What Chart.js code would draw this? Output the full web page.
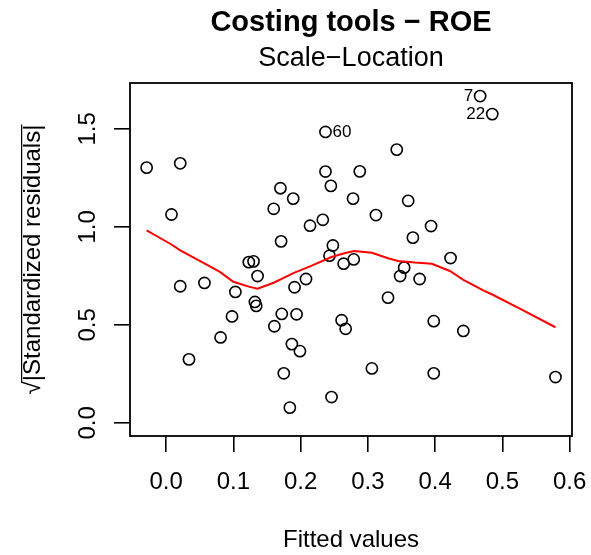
<!DOCTYPE html>
<html>
<head>
<meta charset="utf-8">
<title>Scale-Location</title>
<script src="https://cdn.jsdelivr.net/npm/chart.js@4.4.1/dist/chart.umd.min.js"></script>
<style>
  html, body { margin: 0; padding: 0; background: #fff; }
  #wrap { width: 591px; height: 555px; }
</style>
</head>
<body>
<div id="wrap"><canvas id="slChart" width="591" height="555"></canvas></div>
<script>
// fitted values and sqrt(|standardized residuals|) for each observation
const fitted = [
  -0.029, 0.008, 0.021, 0.021, 0.034, 0.057, 0.081, 0.098, 0.103, 0.123,
   0.130, 0.132, 0.134, 0.136, 0.160, 0.161, 0.170, 0.171, 0.172, 0.175,
   0.184, 0.187, 0.189, 0.191, 0.194, 0.199, 0.208, 0.214, 0.233, 0.237,
   0.237, 0.243, 0.245, 0.246, 0.248, 0.261, 0.264, 0.267, 0.278, 0.279,
   0.288, 0.306, 0.312, 0.330, 0.343, 0.348, 0.354, 0.360, 0.367, 0.377,
   0.394, 0.398, 0.398, 0.423, 0.442, 0.467, 0.485, 0.579
];
const sqrtStdRes = [
  1.302, 1.063, 1.324, 0.697, 0.324, 0.714, 0.436, 0.543, 0.668, 0.820,
  0.824, 0.617, 0.597, 0.749, 1.092, 0.493, 1.197, 0.926, 0.556, 0.253,
  0.078, 0.402, 1.144, 0.692, 0.554, 0.366, 0.734, 1.006, 1.036, 1.484,
  1.282, 0.853, 1.209, 0.132, 0.905, 0.524, 0.812, 0.480, 1.144, 0.834,
  1.283, 0.278, 1.060, 0.639, 1.394, 0.749, 0.792, 1.133, 0.945, 0.734,
  1.004, 0.519, 0.253, 0.841, 0.469, 1.667, 1.575, 0.234
];

// loess smoother (red)
const smoothX = [-0.029, 0.008, 0.021, 0.048, 0.080, 0.100, 0.123, 0.136, 0.160, 0.190,
                  0.215, 0.245, 0.265, 0.280, 0.306, 0.330, 0.345, 0.370, 0.395, 0.422,
                  0.442, 0.471, 0.485, 0.526, 0.579];
const smoothY = [0.982, 0.910, 0.880, 0.830, 0.770, 0.720, 0.695, 0.685, 0.715, 0.765,
                 0.800, 0.845, 0.865, 0.877, 0.868, 0.840, 0.826, 0.818, 0.812, 0.775,
                 0.730, 0.677, 0.655, 0.583, 0.488];

// flagged observations: position in the arrays above and their id
const idIndex = [29, 55, 56];
const idText = ['60', '7', '22'];

const xTicks = [0.0, 0.1, 0.2, 0.3, 0.4, 0.5, 0.6];
const yTicks = [0.0, 0.5, 1.0, 1.5];

const FAMILY = "'Liberation Sans', Arial, Helvetica, sans-serif";
const AXIS_PX = 24;
const Y_TITLE_PAD = 19;
const yTitle = '\u221A|Standardized residuals|';

Chart.defaults.font.family = FAMILY;
Chart.defaults.color = '#000';

// plot frame, id labels and the bar of the square root on the y title
const extras = {
  id: 'extras',
  afterDraw(chart) {
    const { ctx, chartArea: a, scales } = chart;
    ctx.save();
    ctx.strokeStyle = '#000';
    ctx.lineWidth = 1.8;
    ctx.strokeRect(a.left, a.top, a.right - a.left, a.bottom - a.top);

    ctx.fillStyle = '#000';
    ctx.font = '17px ' + FAMILY;
    ctx.textBaseline = 'middle';
    const mid = (Math.min(...fitted) + Math.max(...fitted)) / 2;
    idIndex.forEach((k, n) => {
      const px = scales.x.getPixelForValue(fitted[k]);
      const py = scales.y.getPixelForValue(sqrtStdRes[k]);
      const toLeft = fitted[k] > mid;
      ctx.textAlign = toLeft ? 'right' : 'left';
      ctx.fillText(idText[n], px + (toLeft ? -7 : 7), py);
    });

    const ys = scales.y;
    const cx = ys.left + Y_TITLE_PAD + AXIS_PX * 1.2 / 2;
    const cy = (ys.top + ys.bottom) / 2;
    ctx.translate(cx, cy);
    ctx.rotate(-Math.PI / 2);
    ctx.font = AXIS_PX + 'px ' + FAMILY;
    ctx.textBaseline = 'middle';
    const w = ctx.measureText(yTitle).width;
    const r = ctx.measureText('\u221A');
    const barY = -r.actualBoundingBoxAscent + 0.6;
    ctx.lineWidth = 1.2;
    ctx.beginPath();
    ctx.moveTo(-w / 2 + r.width * 0.95, barY);
    ctx.lineTo(w / 2, barY);
    ctx.stroke();
    ctx.restore();
  }
};

const axisFont = { family: FAMILY, size: AXIS_PX };
const tickGrid = { drawOnChartArea: false, drawTicks: true, tickLength: 16, color: '#000', lineWidth: 1.6 };

new Chart(document.getElementById('slChart'), {
  type: 'scatter',
  data: {
    datasets: [
      {
        label: 'smooth',
        data: smoothX.map((x, i) => ({ x, y: smoothY[i] })),
        showLine: true,
        borderColor: '#ff0000',
        borderWidth: 2,
        pointRadius: 0,
        tension: 0,
        order: 0
      },
      {
        label: 'residuals',
        data: fitted.map((x, i) => ({ x, y: sqrtStdRes[i] })),
        pointStyle: 'circle',
        pointRadius: 5.6,
        borderColor: '#000',
        backgroundColor: 'rgba(0,0,0,0)',
        borderWidth: 1.6,
        order: 1
      }
    ]
  },
  options: {
    responsive: false,
    animation: false,
    devicePixelRatio: 1,
    layout: { padding: { left: 0, right: 19, top: 0, bottom: 0 } },
    plugins: {
      legend: { display: false },
      tooltip: { enabled: false },
      title: {
        display: true,
        fullSize: false,
        text: 'Costing tools \u2212 ROE',
        font: { family: FAMILY, size: 29, weight: 'bold' },
        color: '#000',
        padding: { top: 6, bottom: 0 }
      },
      subtitle: {
        display: true,
        fullSize: false,
        text: 'Scale\u2212Location',
        font: { family: FAMILY, size: 27, weight: 'normal' },
        color: '#000',
        padding: { top: 2, bottom: 7.8 }
      }
    },
    scales: {
      x: {
        type: 'linear',
        position: 'bottom',
        min: -0.0537,
        max: 0.6036,
        afterBuildTicks: s => { s.ticks = xTicks.map(v => ({ value: v })); },
        afterFit: s => { s.height = 119; s.paddingLeft = 0; s.paddingRight = 0; },
        ticks: { callback: v => v.toFixed(1), font: axisFont, color: '#000', padding: 16, maxRotation: 0, autoSkip: false },
        grid: tickGrid,
        border: { display: false },
        title: { display: true, text: 'Fitted values', font: axisFont, color: '#000', padding: { top: 0, bottom: 0 } }
      },
      y: {
        type: 'linear',
        min: -0.0667,
        max: 1.7337,
        afterBuildTicks: s => { s.ticks = yTicks.map(v => ({ value: v })); },
        afterFit: s => { s.width = 130; s.paddingTop = 0; s.paddingBottom = 0; },
        ticks: { callback: v => v.toFixed(1), font: axisFont, color: '#000', padding: 9, minRotation: 90, maxRotation: 90, crossAlign: 'center', autoSkip: false },
        grid: tickGrid,
        border: { display: false },
        title: { display: true, text: yTitle, font: axisFont, color: '#000', padding: { top: Y_TITLE_PAD, bottom: 0 } }
      }
    }
  },
  plugins: [extras]
});
</script>
</body>
</html>
